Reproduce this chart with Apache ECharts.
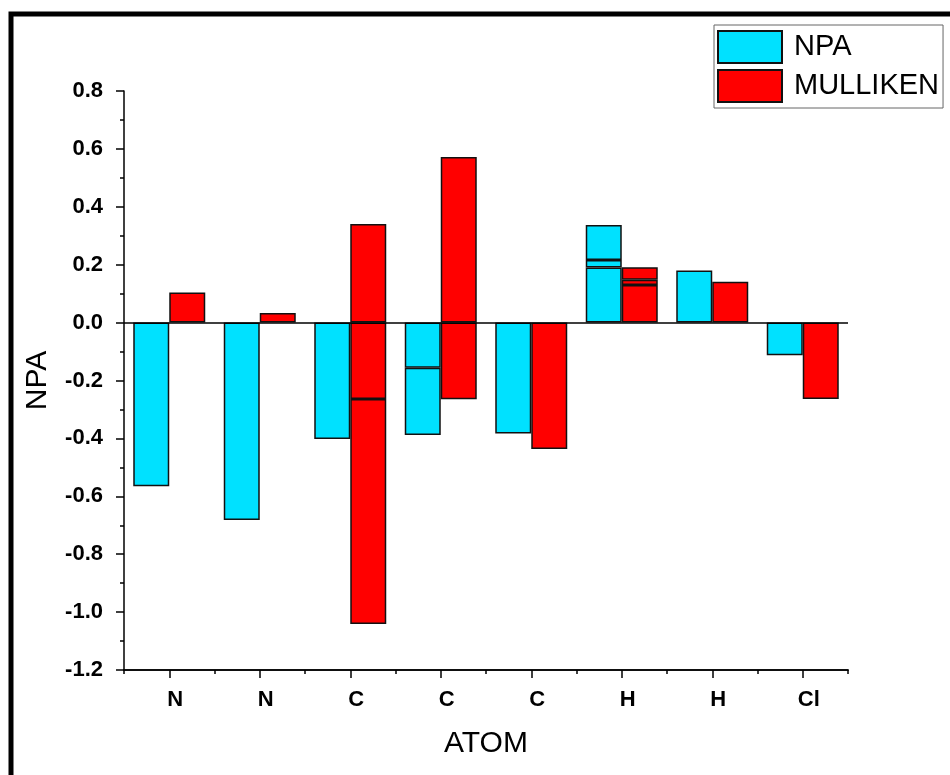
<!DOCTYPE html>
<html>
<head>
<meta charset="utf-8">
<script src="https://cdn.jsdelivr.net/npm/echarts@6/dist/echarts.min.js"></script>
<style>
html,body{margin:0;padding:0;background:#fff;}
#chart{width:950px;height:775px;}
</style>
</head>
<body>
<div id="chart"></div>
<script>
// ---- data ----
const categories = ['N', 'N', 'C', 'C', 'C', 'H', 'H', 'Cl'];
// NPA charges (several atoms share a label, so some slots hold overlapping bars)
const npaMain   = [-0.565, -0.682, -0.402, -0.388, -0.383, 0.337, 0.180, -0.113];
const npaExtra1 = [null,   null,   null,   -0.156, null,   0.216, null,  null];
const npaExtra2 = [null,   null,   null,   null,   null,   0.190, null,  null];
// Mulliken charges
const mulMain   = [0.104, 0.033, 0.341, 0.572, -0.437, 0.191, 0.141, -0.264];
const mulExtra1 = [null,  null,  -0.264, -0.265, null, 0.148, null,  null];
const mulExtra2 = [null,  null,  -1.041, null,   null, 0.130, null,  null];
const yTicks = [-1.2, -1.0, -0.8, -0.6, -0.4, -0.2, 0.0, 0.2, 0.4, 0.6, 0.8];

const FONT = 'Liberation Sans, Arial, sans-serif';
const CYAN = '#00E1FF';
const RED = '#FF0000';

// Overlapping bars of the same sign look like nested layers; build them as
// same-sign stacked layers (differences between successive sorted values).
function buildLayers(lists, name, stack, color) {
  const n = categories.length;
  const pos = [], neg = [];
  for (let c = 0; c < n; c++) {
    const vals = lists.map(l => l[c]).filter(v => v !== null && v !== undefined);
    const p = vals.filter(v => v >= 0).sort((a, b) => a - b);
    const m = vals.filter(v => v < 0).sort((a, b) => b - a);
    const pd = p.map((v, i) => i === 0 ? v : v - p[i - 1]);
    const md = m.map((v, i) => i === 0 ? v : v - m[i - 1]);
    pos.push(pd); neg.push(md);
  }
  const maxP = Math.max(...pos.map(a => a.length));
  const maxN = Math.max(...neg.map(a => a.length));
  const series = [];
  const mk = (arrs, k) => ({
    name: name,
    type: 'bar',
    stack: stack,
    barWidth: 36,
    barGap: '0%',
    itemStyle: { color: color, borderColor: '#111', borderWidth: 1.5 },
    emphasis: { disabled: true },
    data: arrs.map(a => (k < a.length ? +a[k].toFixed(4) : '-'))
  });
  for (let k = 0; k < maxP; k++) series.push(mk(pos, k));
  for (let k = 0; k < maxN; k++) series.push(mk(neg, k));
  return series;
}

const npaSeries = buildLayers([npaMain, npaExtra1, npaExtra2], 'NPA', 'npa', CYAN);
const mulSeries = buildLayers([mulMain, mulExtra1, mulExtra2], 'MULLIKEN', 'mul', RED);
npaSeries[0].markLine = {
  silent: true,
  symbol: 'none',
  label: { show: false },
  lineStyle: { color: '#000', width: 1.5, type: 'solid' },
  data: [{ yAxis: 0 }],
  z: 5
};

const chart = echarts.init(document.getElementById('chart'), null, { renderer: 'canvas' });
chart.setOption({
  animation: false,
  backgroundColor: '#fff',
  textStyle: { fontFamily: FONT },
  grid: { left: 124, right: 102, top: 91, bottom: 105, containLabel: false },
  legend: {
    data: ['NPA', 'MULLIKEN'],
    orient: 'vertical',
    left: 714,
    top: 25,
    icon: 'rect',
    itemWidth: 64,
    itemHeight: 32,
    itemGap: 5,
    padding: [5, 4, 5, 3],
    borderColor: '#666',
    borderWidth: 1,
    backgroundColor: '#fff',
    textStyle: { fontFamily: FONT, fontSize: 29, color: '#000', lineHeight: 32, padding: [2, 0, 0, 7] }
  },
  xAxis: [
    {
      type: 'category',
      data: categories,
      position: 'bottom',
      name: 'ATOM',
      nameLocation: 'middle',
      nameGap: 59,
      nameTextStyle: { fontFamily: FONT, fontSize: 30, color: '#000' },
      axisLine: { onZero: false, lineStyle: { color: '#000', width: 1.5 } },
      axisTick: { show: true, length: 4, lineStyle: { color: '#000', width: 1.5 } },
      axisLabel: { fontFamily: FONT, fontWeight: 'bold', fontSize: 22, color: '#000', margin: 19, padding: [0, 0, 0, 12] },
      splitLine: { show: false }
    },
    {
      type: 'category',
      data: categories,
      position: 'bottom',
      gridIndex: 0,
      axisLine: { show: true, onZero: false, lineStyle: { color: '#000', width: 1.5 } },
      axisTick: { show: true, alignWithLabel: true, length: 8, lineStyle: { color: '#000', width: 1.5 } },
      axisLabel: { show: false },
      splitLine: { show: false }
    }
  ],
  yAxis: {
    type: 'value',
    min: yTicks[0],
    max: yTicks[yTicks.length - 1],
    interval: 0.2,
    name: 'NPA',
    nameLocation: 'middle',
    nameRotate: 90,
    nameGap: 71,
    nameTextStyle: { fontFamily: FONT, fontSize: 30, color: '#000' },
    axisLine: { show: true, lineStyle: { color: '#000', width: 1.5 } },
    axisTick: { show: true, length: 8, lineStyle: { color: '#000', width: 1.5 } },
    minorTick: { show: true, splitNumber: 2, length: 4, lineStyle: { color: '#000', width: 1.5 } },
    axisLabel: {
      fontFamily: FONT, fontWeight: 'bold', fontSize: 22, color: '#000', margin: 21,
      formatter: v => v.toFixed(1)
    },
    splitLine: { show: false }
  },
  graphic: [
    {
      type: 'polyline',
      silent: true,
      shape: { points: [[11, 800], [11, 14], [1000, 14]] },
      style: { stroke: '#000', lineWidth: 5, fill: null }
    }
  ],
  series: npaSeries.concat(mulSeries)
});
</script>
</body>
</html>
